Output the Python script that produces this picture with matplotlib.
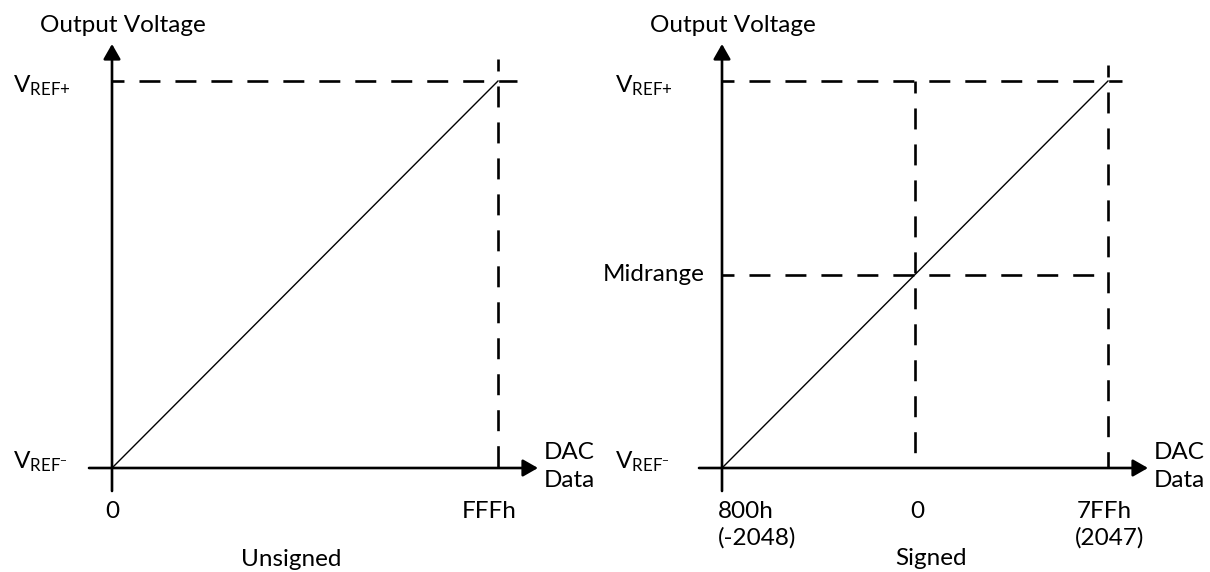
import matplotlib.pyplot as plt

plt.rcParams['font.family'] = ['Lato', 'DejaVu Sans']
plt.rcParams['mathtext.fontset'] = 'custom'
plt.rcParams['mathtext.rm'] = 'Lato'
plt.rcParams['lines.scale_dashes'] = False

# DAC transfer functions, output normalised: VREF- = 0, VREF+ = 1
unsigned_codes = [0, 4095]
unsigned_vout = [0.0, 1.0]
unsigned_ticks = [0, 4095]
unsigned_ticklabels = ['0', 'FFFh']

signed_codes = [-2048, 0, 2047]
signed_vout = [0.0, 0.5, 1.0]
signed_ticks = [-2048, 0, 2047]
signed_ticklabels = ['800h', '0', '7FFh']
signed_ticklabels2 = ['(-2048)', '', '(2047)']

W, H = 1210, 572
FS = 17.5
Y0, Y1 = 468, 81      # pixel rows of VREF- and VREF+
SPAN = 386            # pixels taken by the full code range
LW = 1.9
DASH = (15.1, 10.8)


def px(v):
    # pixels -> points at 100 dpi
    return v * 0.72


fig = plt.figure(figsize=(W / 100, H / 100), dpi=100)


def make_panel(x_left, codes):
    lo, hi = codes[0], codes[-1]
    sx = (hi - lo) / SPAN
    sy = 1.0 / (Y0 - Y1)
    ax = fig.add_axes([0, 0, 1, 1])
    ax.set_xlim(lo - x_left * sx, hi + (W - x_left - SPAN) * sx)
    ax.set_ylim(-(H - Y0) * sy, 1 + Y1 * sy)
    ax.axis('off')
    ax.patch.set_visible(False)
    return ax, sx, sy


def label(ax, text, xy, dx, dy, ha='left'):
    ax.annotate(text, xy=xy, xytext=(px(dx), px(dy)), textcoords='offset points',
                ha=ha, va='baseline', fontsize=FS, color='black')


def dashed(ax, xs, ys):
    ax.plot(xs, ys, color='black', lw=LW, linestyle=(px(9), DASH),
            dash_capstyle='butt', zorder=2)


def axes_arrows(ax, sx, sy, lo, hi):
    arrow = dict(arrowstyle='-|>,head_length=0.7,head_width=0.4', mutation_scale=13,
                 lw=LW, color='black', shrinkA=0, shrinkB=0)
    ax.annotate('', xy=(lo, 1 + 37 * sy), xytext=(lo, -23 * sy), arrowprops=arrow)
    ax.annotate('', xy=(hi + 40 * sx, 0), xytext=(lo - 23 * sx, 0), arrowprops=arrow)


def common_labels(ax, lo, hi, vref_dx):
    label(ax, 'Output Voltage', (lo, 1), -72, 49)
    label(ax, r'$\mathregular{V_{REF{+}}}$', (lo, 1), vref_dx, -11)
    label(ax, r'$\mathregular{V_{REF^{-}}}$', (lo, 0), vref_dx, 0)
    label(ax, 'DAC', (hi, 0), 46, 9)
    label(ax, 'Data', (hi, 0), 46, -19)


# unsigned
ax, sx, sy = make_panel(112, unsigned_codes)
lo, hi = unsigned_codes[0], unsigned_codes[-1]
dashed(ax, [lo, hi + 19 * sx], [1, 1])
dashed(ax, [hi, hi], [1 + 22 * sy, 0])
ax.plot(unsigned_codes, unsigned_vout, color='black', lw=1.0, zorder=3)
axes_arrows(ax, sx, sy, lo, hi)
common_labels(ax, lo, hi, -99)
label(ax, unsigned_ticklabels[0], (unsigned_ticks[0], 0), 0, -50, ha='center')
label(ax, unsigned_ticklabels[1], (unsigned_ticks[1], 0), -9, -50, ha='center')
label(ax, 'Unsigned', (lo, 0), 179, -98, ha='center')

# signed (two's complement)
ax, sx, sy = make_panel(722, signed_codes)
lo, hi = signed_codes[0], signed_codes[-1]
mid = signed_codes[1]
dashed(ax, [lo, hi + 14 * sx], [1, 1])
dashed(ax, [hi, hi], [1 + 16 * sy, 0])
dashed(ax, [lo, hi], [signed_vout[1], signed_vout[1]])
dashed(ax, [mid, mid], [1, 0])
ax.plot(signed_codes, signed_vout, color='black', lw=1.0, zorder=3)
axes_arrows(ax, sx, sy, lo, hi)
common_labels(ax, lo, hi, -107)
label(ax, 'Midrange', (lo, signed_vout[1]), -17, -7, ha='right')
label(ax, signed_ticklabels[0], (signed_ticks[0], 0), -4, -50)
label(ax, signed_ticklabels2[0], (signed_ticks[0], 0), -4, -77)
label(ax, signed_ticklabels[1], (signed_ticks[1], 0), 2, -50, ha='center')
label(ax, signed_ticklabels[2], (signed_ticks[2], 0), -4, -50, ha='center')
label(ax, signed_ticklabels2[2], (signed_ticks[2], 0), 2, -77, ha='center')
label(ax, 'Signed', (mid, 0), 16, -97, ha='center')

fig.savefig('out.png', dpi=100)
